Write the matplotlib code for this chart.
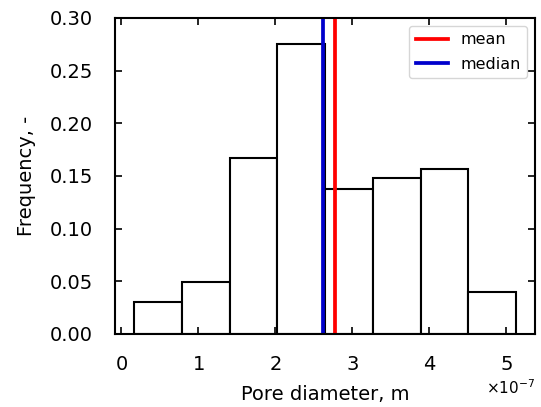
import numpy as np
import matplotlib
matplotlib.use("Agg")
import matplotlib.pyplot as plt

bin_edges = np.array([0.169, 0.789, 1.409, 2.029, 2.649, 3.269, 3.889, 4.509, 5.127]) * 1e-7
frequencies = [0.030, 0.049, 0.167, 0.275, 0.138, 0.148, 0.157, 0.040]
mean_value = 2.78e-7
median_value = 2.624e-7

plt.rcParams['font.family'] = 'DejaVu Sans'
fig = plt.figure(figsize=(5.41, 4.07), dpi=100)
ax = fig.add_axes([0.2126, 0.1794, 0.989 - 0.2126, 0.9558 - 0.1794])

ax.bar(bin_edges[:-1], frequencies, width=np.diff(bin_edges), align='edge',
       facecolor='white', edgecolor='black', linewidth=1.5)
ax.axvline(mean_value, color='red', linewidth=2.7, label='mean')
ax.axvline(median_value, color='#0000cc', linewidth=2.7, label='median')

ax.set_ylim(0, 0.30)
ax.set_yticks([0.0, 0.05, 0.10, 0.15, 0.20, 0.25, 0.30])
ax.set_xticks(np.arange(0, 6) * 1e-7)
ax.ticklabel_format(axis='x', style='sci', scilimits=(0, 0), useMathText=True)
ax.tick_params(direction='in', top=True, right=True, labelsize=14, length=5, width=1.2)
ax.tick_params(axis='x', pad=15)
ax.tick_params(axis='y', pad=16)
for s in ax.spines.values():
    s.set_linewidth(1.5)
ax.xaxis.get_offset_text().set_fontsize(11)

ax.set_xlabel('Pore diameter, m', fontsize=14, labelpad=8)
ax.set_ylabel('Frequency, -', fontsize=14, labelpad=10)
ax.legend(loc='upper right', fontsize=11.5, labelspacing=0.6)

fig.savefig('out.png', dpi=100)
